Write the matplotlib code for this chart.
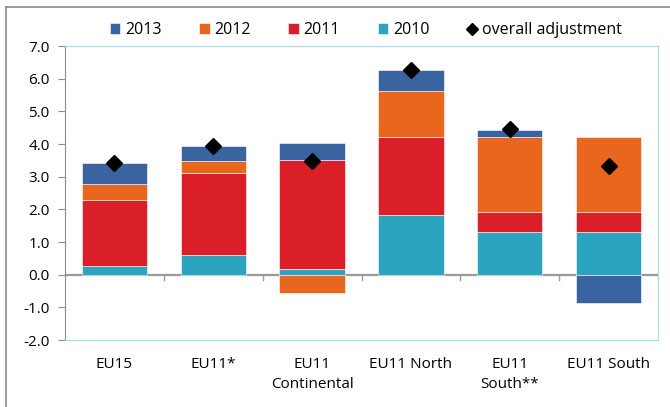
import matplotlib.pyplot as plt
from matplotlib.lines import Line2D
import numpy as np

plt.rcParams['font.family'] = ['Open Sans', 'DejaVu Sans']

# data
categories = ["EU15", "EU11*", "EU11\nContinental", "EU11 North", "EU11\nSouth**", "EU11 South"]
y2010 = [0.28, 0.59, 0.17, 1.84, 1.30, 1.30]
y2011 = [2.02, 2.53, 3.35, 2.38, 0.61, 0.61]
y2012 = [0.47, 0.37, -0.56, 1.40, 2.30, 2.30]
y2013 = [0.64, 0.44, 0.51, 0.66, 0.22, -0.88]
overall = [3.42, 3.95, 3.47, 6.28, 4.45, 3.33]

series = [("2010", y2010, "#2CA3BF"),
          ("2011", y2011, "#DA1F28"),
          ("2012", y2012, "#E8661E"),
          ("2013", y2013, "#3A64A0")]

fig = plt.figure(figsize=(6.7, 4.07), dpi=100)
ax = fig.add_axes([65/670, 67/407, 593/670, 294/407])

x = np.arange(len(categories))
pos_base = np.zeros(len(categories))
neg_base = np.zeros(len(categories))
handles = {}
for name, vals, col in series:
    vals = np.array(vals)
    bottoms = np.where(vals >= 0, pos_base, neg_base)
    b = ax.bar(x, vals, width=0.66, bottom=bottoms, color=col,
               edgecolor="white", linewidth=0.4, zorder=2)
    handles[name] = b
    pos_base = pos_base + np.where(vals >= 0, vals, 0)
    neg_base = neg_base + np.where(vals < 0, vals, 0)

dia, = ax.plot(x, overall, linestyle="none", marker="D", color="black",
               markersize=8, zorder=3)

ax.set_xlim(-0.5, len(categories) - 0.5)
ax.set_ylim(-2, 7)
ax.set_yticks(np.arange(-2, 8, 1))
ax.set_yticklabels([f"{v:.1f}" for v in np.arange(-2, 8, 1)], fontsize=11)
ax.tick_params(axis="y", direction="out", length=5, color="#8c8c8c", pad=6)

ax.set_xticks(x)
ax.set_xticklabels(categories, fontsize=11, linespacing=1.5)
ax.tick_params(axis="x", length=0, pad=12)

# zero line with category separators
ax.axhline(0, color="#9a9a9a", linewidth=1.6, zorder=1)
for b in np.arange(0.5, len(categories), 1.0):
    ax.plot([b, b], [0, -0.15], color="#9a9a9a", linewidth=1.0, zorder=1)

for s in ["top", "right", "bottom"]:
    ax.spines[s].set_color("#a8dcf0")
ax.spines["left"].set_color("#8c8c8c")

leg_handles = [handles["2013"], handles["2012"], handles["2011"], handles["2010"], dia]
leg = fig.legend(leg_handles, ["2013", "2012", "2011", "2010", "overall adjustment"],
                 loc="center", bbox_to_anchor=(366/670, 1 - 30/407), ncol=5,
                 frameon=False, fontsize=11.5, handlelength=0.65, handleheight=0.65,
                 handletextpad=0.3, columnspacing=2.35, markerscale=0.75)

# outer chart border (top and left edges only visible)
fig.add_artist(Line2D([6/670, 6/670], [0, 1 - 7/407], color="#8c8c8c", linewidth=1.2))
fig.add_artist(Line2D([6/670, 1], [1 - 7/407, 1 - 7/407], color="#8c8c8c", linewidth=1.2))

fig.savefig("out.png", dpi=100)
